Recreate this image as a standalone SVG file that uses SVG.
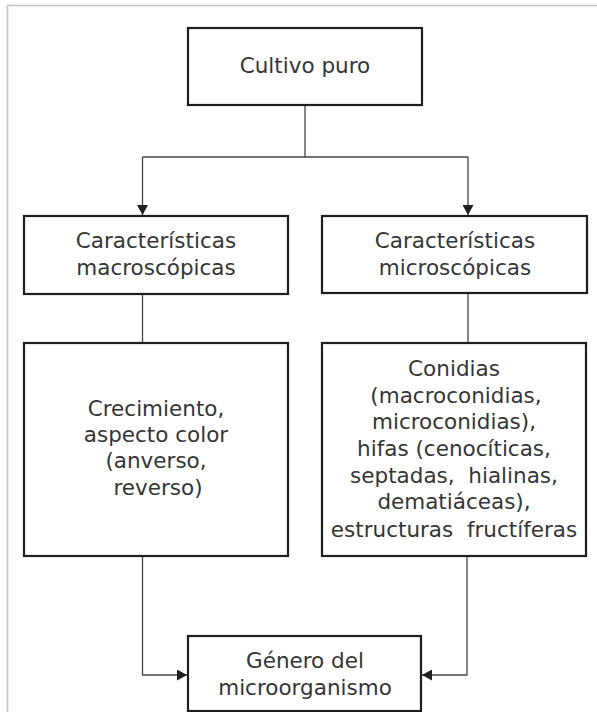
<svg xmlns="http://www.w3.org/2000/svg" width="597" height="712" viewBox="0 0 597 712">
  <style>
    .box { fill: #ffffff; stroke: #1e1e1e; stroke-width: 2.2; }
    .lbl { font-family: "DejaVu Sans", Verdana, sans-serif; font-size: 21.5px; fill: #353535; text-anchor: middle; white-space: pre; }
    .conn { fill: none; stroke: #444444; stroke-width: 1.3; }
    .frame { fill: none; stroke: #c4c4c4; stroke-width: 1.6; }
  </style>
  <defs>
    <marker id="arrow" viewBox="0 0 10 10" refX="10" refY="5" markerWidth="10" markerHeight="11" markerUnits="userSpaceOnUse" orient="auto" preserveAspectRatio="none">
      <path d="M0,0 L10,5 L0,10 Z" fill="#1e1e1e"/>
    </marker>
  </defs>
  <rect x="0" y="0" width="597" height="712" fill="#ffffff"/>
  <path class="frame" d="M7.5,712 L7.5,5.5 L597,5.5"/>

  <g id="connectors">
    <path class="conn" d="M305,105 L305,157"/>
    <path class="conn" d="M142.5,157 L468,157"/>
    <path class="conn" d="M142.5,157 L142.5,215" marker-end="url(#arrow)"/>
    <path class="conn" d="M468,157 L468,215" marker-end="url(#arrow)"/>
    <path class="conn" d="M142.5,294 L142.5,343"/>
    <path class="conn" d="M468,293 L468,343"/>
    <path class="conn" d="M142.5,556 L142.5,675 L187,675" marker-end="url(#arrow)"/>
    <path class="conn" d="M467,556 L467,675 L422,675" marker-end="url(#arrow)"/>
  </g>

  <g id="cultivo-puro">
    <rect class="box" x="188" y="28" width="234" height="77"/>
    <text class="lbl" x="305" y="73">Cultivo puro</text>
  </g>

  <g id="macroscopicas">
    <rect class="box" x="24" y="216" width="264" height="78"/>
    <text class="lbl" x="156" y="248">Características</text>
    <text class="lbl" x="156" y="275">macroscópicas</text>
  </g>

  <g id="microscopicas">
    <rect class="box" x="322" y="216" width="265" height="77"/>
    <text class="lbl" x="455" y="248">Características</text>
    <text class="lbl" x="455" y="275">microscópicas</text>
  </g>

  <g id="crecimiento">
    <rect class="box" x="24" y="343" width="264" height="213"/>
    <text class="lbl" x="156" y="416">Crecimiento,</text>
    <text class="lbl" x="156" y="442">aspecto color</text>
    <text class="lbl" x="156" y="468">(anverso,</text>
    <text class="lbl" x="158" y="495">reverso)</text>
  </g>

  <g id="conidias">
    <rect class="box" x="322" y="343" width="264" height="213"/>
    <text class="lbl" x="454" y="376">Conidias</text>
    <text class="lbl" x="456" y="403">(macroconidias,</text>
    <text class="lbl" x="454" y="429">microconidias),</text>
    <text class="lbl" x="454" y="456">hifas (cenocíticas,</text>
    <text class="lbl" x="454" y="483" xml:space="preserve">septadas,  hialinas,</text>
    <text class="lbl" x="454" y="509">dematiáceas),</text>
    <text class="lbl" x="454" y="537" xml:space="preserve">estructuras  fructíferas</text>
  </g>

  <g id="genero">
    <rect class="box" x="188" y="636" width="233" height="75"/>
    <text class="lbl" x="305" y="668">Género del</text>
    <text class="lbl" x="305" y="695">microorganismo</text>
  </g>
</svg>
